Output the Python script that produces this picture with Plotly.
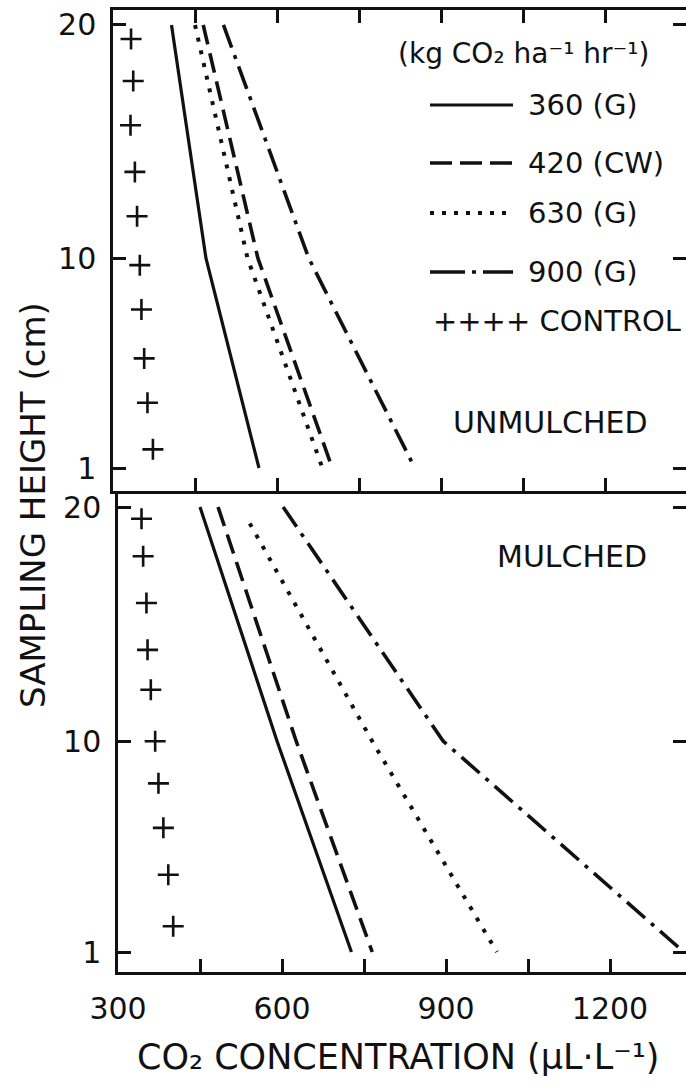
import plotly.graph_objects as go

# Sampling heights (cm) at which the treatment profiles were read
heights = [20, 10, 1]

# Unmulched plots: CO2 concentration (uL/L) at 20, 10 and 1 cm
unmulched_360g = [407, 470, 567]
unmulched_420cw = [465, 565, 701]
unmulched_630g = [450, 546, 683]
unmulched_900g = [502, 658, 852]

# Mulched plots
mulched_360g = [450, 591, 727]
mulched_420cw = [483, 626, 765]
mulched_630g = [541, 765, 993]
mulched_630g_heights = [19.3, 10, 1]
mulched_900g = [602, 895, 1335]

# Control (no CO2 enrichment) readings
control_unmulched_x = [333, 337, 332, 340, 344, 349, 352, 357, 363, 373]
control_unmulched_y = [19.4, 17.6, 15.7, 13.7, 11.8, 9.7, 7.8, 5.7, 3.8, 1.8]
control_mulched_x = [343, 346, 352, 354, 360, 368, 374, 383, 392, 401]
control_mulched_y = [19.5, 17.9, 15.9, 13.9, 12.2, 10.0, 8.2, 6.3, 4.3, 2.1]

series_labels = ["360 (G)", "420 (CW)", "630 (G)", "900 (G)"]

x_tick_vals = [300, 600, 900, 1200]
x_tick_text = ["300", "600", "900", "1200"]
x_minor_step = 150
y_tick_vals = [1, 10, 20]
y_tick_text = ["1", "10", "20"]

W, H = 686, 1089
FONT = "DejaVu Sans"
INK = "#111111"

# line styles per treatment
styles = {
    "360 (G)": dict(dash="solid", width=3.2),
    "420 (CW)": dict(dash="20px,9px", width=3.6),
    "630 (G)": dict(dash="4px,9px", width=4),
    "900 (G)": dict(dash="24px,8px,4px,8px", width=3.6),
}

fig = go.Figure()

panels = [
    ("x2", "y2", [unmulched_360g, unmulched_420cw, unmulched_630g, unmulched_900g],
     [heights, heights, heights, heights], control_unmulched_x, control_unmulched_y),
    ("x", "y", [mulched_360g, mulched_420cw, mulched_630g, mulched_900g],
     [heights, heights, mulched_630g_heights, heights], control_mulched_x, control_mulched_y),
]

for xa, ya, series, ys, cx, cy in panels:
    for label, xs, yv in zip(series_labels, series, ys):
        st = styles[label]
        fig.add_trace(go.Scatter(
            x=xs, y=yv, xaxis=xa, yaxis=ya, mode="lines", name=label,
            line=dict(color=INK, width=st["width"], dash=st["dash"]),
            showlegend=False, hoverinfo="skip"))
    fig.add_trace(go.Scatter(
        x=cx, y=cy, xaxis=xa, yaxis=ya, mode="markers", name="CONTROL",
        marker=dict(symbol="cross-thin", size=15, color=INK,
                    line=dict(width=2.6, color=INK)),
        showlegend=False, hoverinfo="skip"))

# invisible anchors so the right-hand tick axes get drawn
fig.add_trace(go.Scatter(x=[300], y=[1], xaxis="x", yaxis="y3", mode="markers",
                         marker=dict(opacity=0), showlegend=False, hoverinfo="skip"))
fig.add_trace(go.Scatter(x=[300], y=[1], xaxis="x2", yaxis="y4", mode="markers",
                         marker=dict(opacity=0), showlegend=False, hoverinfo="skip"))

tickfont = dict(family=FONT, size=30, color=INK)
common = dict(showgrid=False, zeroline=False, linecolor=INK, linewidth=2.5,
              ticks="inside", ticklen=13, tickwidth=2.5, tickcolor=INK,
              tickfont=tickfont)
minor_x = dict(ticks="inside", ticklen=13, tickwidth=2.5, tickcolor=INK,
               tick0=300, dtick=x_minor_step, showgrid=False)

bottom_y_range = [0.146, 20.726]
top_y_range = [0.0135, 20.643]

fig.update_layout(
    template="none",
    width=W, height=H,
    margin=dict(l=0, r=0, t=0, b=0),
    paper_bgcolor="white", plot_bgcolor="white",
    showlegend=False,
    xaxis=dict(common, domain=[118 / W, 1], range=[300, 1339], anchor="y",
               tickmode="array", tickvals=x_tick_vals, ticktext=x_tick_text,
               minor=minor_x, showline=True, mirror=True, ticklabelstandoff=8),
    yaxis=dict(common, domain=[(H - 972) / H, (H - 490) / H], range=bottom_y_range,
               anchor="x", tickmode="array", tickvals=y_tick_vals, ticktext=y_tick_text,
               showline=True, ticklabelstandoff=8),
    xaxis2=dict(common, domain=[113 / W, 1], range=[300, 1348], anchor="y2",
                tickmode="array", tickvals=x_tick_vals, showticklabels=False,
                minor=minor_x, showline=True, mirror="allticks"),
    yaxis2=dict(common, domain=[(H - 491) / H, (H - 10) / H], range=top_y_range,
                anchor="x2", tickmode="array", tickvals=y_tick_vals, ticktext=y_tick_text,
                showline=True, ticklabelstandoff=8),
    yaxis3=dict(common, overlaying="y", side="right", anchor="x", range=bottom_y_range,
                tickmode="array", tickvals=y_tick_vals, showticklabels=False, showline=False),
    yaxis4=dict(common, overlaying="y2", side="right", anchor="x2", range=top_y_range,
                tickmode="array", tickvals=y_tick_vals, showticklabels=False, showline=False),
)


def px_x(px):
    return px / W


def px_y(py):
    return (H - py) / H


annotations = [
    dict(text="SAMPLING HEIGHT (cm)", x=px_x(33), y=px_y(505), textangle=-90,
         xanchor="center", yanchor="middle", font=dict(family=FONT, size=34, color=INK)),
    dict(text="CO\u2082 CONCENTRATION (\u03bcL\u00b7L\u207b\u00b9)", x=px_x(398), y=px_y(1057),
         xanchor="center", yanchor="middle", font=dict(family=FONT, size=35, color=INK)),
    dict(text="UNMULCHED", x=px_x(550), y=px_y(422), xanchor="center", yanchor="middle",
         font=dict(family=FONT, size=30, color=INK)),
    dict(text="MULCHED", x=px_x(572), y=px_y(556), xanchor="center", yanchor="middle",
         font=dict(family=FONT, size=30, color=INK)),
    dict(text="(kg CO\u2082 ha\u207b\u00b9 hr\u207b\u00b9)", x=px_x(524), y=px_y(54),
         xanchor="center", yanchor="middle", font=dict(family=FONT, size=28, color=INK)),
    dict(text="++++ CONTROL", x=px_x(431), y=px_y(321), xanchor="left", yanchor="middle",
         font=dict(family=FONT, size=29, color=INK)),
]

legend_rows = [105, 163, 213, 272]
legend_dash = {
    "360 (G)": "solid",
    "420 (CW)": "22px,8px",
    "630 (G)": "4px,8px",
    "900 (G)": "35px,7px,4px,7px",
}
shapes = []
for label, ry in zip(series_labels, legend_rows):
    annotations.append(dict(text=label, x=px_x(526), y=px_y(ry), xanchor="left",
                            yanchor="middle", font=dict(family=FONT, size=29, color=INK)))
    shapes.append(dict(type="line", xref="paper", yref="paper",
                       x0=px_x(430), x1=px_x(513), y0=px_y(ry), y1=px_y(ry),
                       line=dict(color=INK, width=styles[label]["width"], dash=legend_dash[label])))

for a in annotations:
    a.update(xref="paper", yref="paper", showarrow=False)

fig.update_layout(annotations=annotations, shapes=shapes)

fig.write_html("out.html")
